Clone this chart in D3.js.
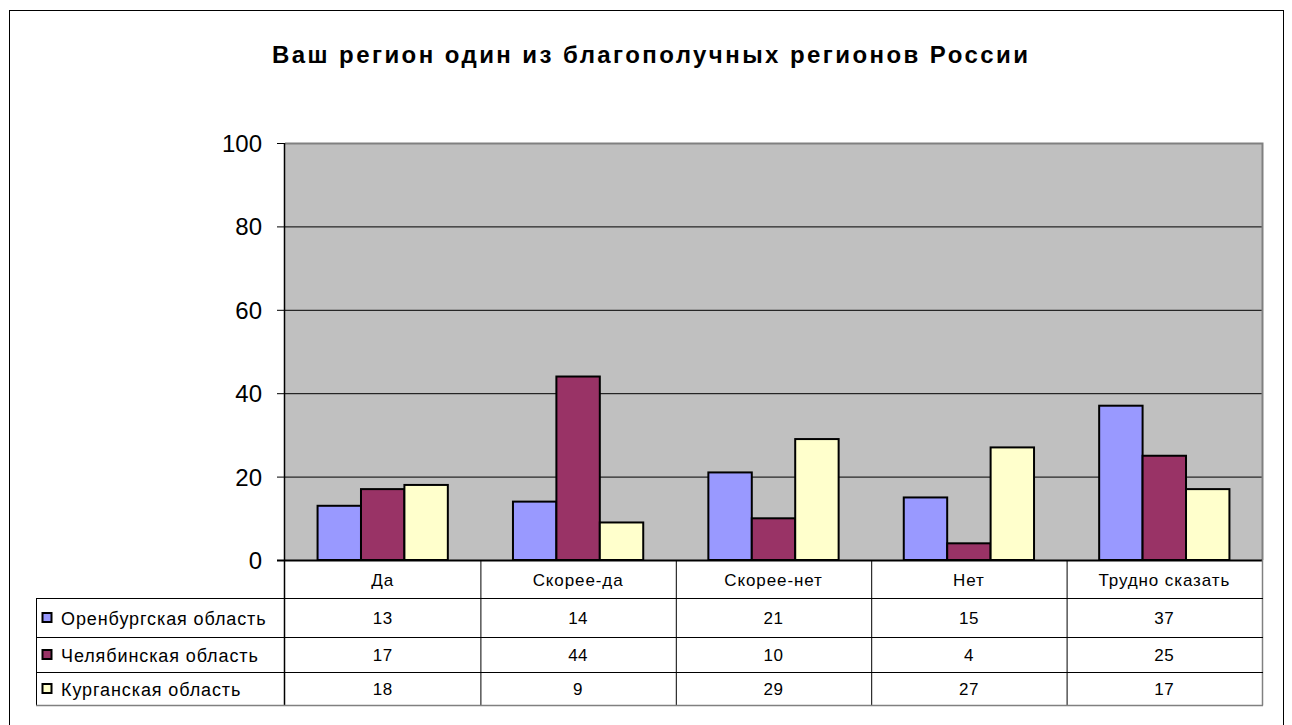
<!DOCTYPE html>
<meta charset="utf-8">
<style>
  body { margin: 0; background: #fff; }
  text { font-family: "Liberation Sans", Arial, sans-serif; fill: #000; }
  .grid line { stroke: #000; stroke-width: 1; }
  .grid path { display: none; }
  .yaxis path { display: none; }
  .yaxis line { stroke: #000; }
  .yaxis text { font-size: 24px; }
  .bar { stroke: #000; stroke-width: 2; }
  .tbl line { stroke: #000; stroke-width: 1; }
</style>
<body>
<script src="https://cdnjs.cloudflare.com/ajax/libs/d3/7.8.5/d3.min.js"></script>
<script>

var title = "Ваш регион один из благополучных регионов России";
var categories = ["Да", "Скорее-да", "Скорее-нет", "Нет", "Трудно сказать"];
var seriesNames = ["Оренбургская область", "Челябинская область", "Курганская область"];
var orenburg = [13, 14, 21, 15, 37];
var chelyabinsk = [17, 44, 10, 4, 25];
var kurgan = [18, 9, 29, 27, 17];
var colors = ["#9999FF", "#993366", "#FFFFCC"];
var yTicks = [0, 20, 40, 60, 80, 100];

var seriesValues = [orenburg, chelyabinsk, kurgan];

var W = 1292, H = 725;
var plot = {left: 285, right: 1262, top: 143, bottom: 560};
var tableLeft = 36;
var rowLines = [598, 637, 672, 705]; // header bottom + row bottoms

var svg = d3.select("body").append("svg")
    .attr("width", W)
    .attr("height", H);

// outer chart border
svg.append("rect")
    .attr("x", 9.5).attr("y", 10.5)
    .attr("width", 1274).attr("height", 730)
    .attr("fill", "none")
    .attr("stroke", "#000");

svg.append("text")
    .attr("x", 650).attr("y", 63)
    .attr("text-anchor", "middle")
    .attr("textLength", 756)
    .attr("lengthAdjust", "spacing")
    .style("font-size", "24px")
    .style("font-weight", "bold")
    .text(title);

var x = d3.scaleBand()
    .domain(categories)
    .range([plot.left, plot.right]);

var xs = d3.scaleBand()
    .domain(d3.range(seriesNames.length))
    .range([0, x.bandwidth()])
    .paddingOuter(0.75)
    .paddingInner(0);

var y = d3.scaleLinear()
    .domain([0, 100])
    .range([plot.bottom, plot.top]);

// plot background
svg.append("rect")
    .attr("x", plot.left).attr("y", plot.top)
    .attr("width", plot.right - plot.left)
    .attr("height", plot.bottom - plot.top)
    .attr("fill", "#C0C0C0");

// gridlines
svg.append("g")
    .attr("class", "grid")
    .attr("transform", "translate(" + plot.left + ",0)")
    .call(d3.axisLeft(y).tickValues(yTicks.slice(1, 5)).tickSize(-(plot.right - plot.left)).tickFormat(""));

// plot border (gray)
svg.append("path")
    .attr("d", "M" + plot.left + "," + (plot.top + 0.5) + "H" + (plot.right + 0.5) + "V" + plot.bottom)
    .attr("fill", "none")
    .attr("stroke", "#808080")
    .attr("stroke-width", 2);

// y axis
svg.append("g")
    .attr("class", "yaxis")
    .attr("transform", "translate(" + plot.left + ",0)")
    .call(d3.axisLeft(y).tickValues(yTicks).tickSize(8).tickPadding(15))
    .call(function(g) { g.selectAll("text").attr("dy", "0.35em"); });

svg.append("line")
    .attr("x1", plot.left - 0.5).attr("x2", plot.left - 0.5)
    .attr("y1", plot.top).attr("y2", rowLines[3])
    .attr("stroke", "#000").attr("stroke-width", 1.5);

// bars
var groups = svg.selectAll("g.series")
    .data(seriesValues)
    .enter().append("g")
    .attr("class", "series")
    .attr("fill", function(d, i) { return colors[i]; });

groups.each(function(vals, si) {
  d3.select(this).selectAll("rect")
    .data(vals)
    .enter().append("rect")
    .attr("class", "bar")
    .attr("x", function(d, i) { return x(categories[i]) + xs(si); })
    .attr("width", xs.bandwidth())
    .attr("y", function(d) { return y(d); })
    .attr("height", function(d) { return y(0) - y(d); });
});

// x axis baseline
svg.append("line")
    .attr("x1", plot.left - 8).attr("x2", plot.right)
    .attr("y1", plot.bottom + 0.5).attr("y2", plot.bottom + 0.5)
    .attr("stroke", "#000").attr("stroke-width", 2);

// data table
var tbl = svg.append("g").attr("class", "tbl");

// vertical column lines
categories.forEach(function(c, i) {
  if (i === 0) return;
  tbl.append("line")
    .attr("x1", x(c) + 0.5).attr("x2", x(c) + 0.5)
    .attr("y1", plot.bottom).attr("y2", rowLines[3]);
});
tbl.append("line")
    .attr("x1", plot.right + 0.5).attr("x2", plot.right + 0.5)
    .attr("y1", plot.bottom).attr("y2", rowLines[3] + 0.5)
    .style("stroke", "#808080").style("stroke-width", 1.5);
tbl.append("line")
    .attr("x1", tableLeft + 0.5).attr("x2", tableLeft + 0.5)
    .attr("y1", rowLines[0]).attr("y2", rowLines[3]);

// horizontal row lines
rowLines.forEach(function(ry, i) {
  tbl.append("line")
    .attr("x1", tableLeft).attr("x2", plot.right + 1)
    .attr("y1", ry + 0.5).attr("y2", ry + 0.5)
    .style("stroke", i === 3 ? "#808080" : "#000")
    .style("stroke-width", i === 3 ? 1.5 : 1);
});

// header labels
tbl.selectAll("text.cat")
    .data(categories)
    .enter().append("text")
    .attr("class", "cat")
    .attr("x", function(d) { return x(d) + x.bandwidth() / 2; })
    .attr("y", (plot.bottom + rowLines[0]) / 2 + 1)
    .attr("dy", "0.35em")
    .attr("text-anchor", "middle")
    .style("font-size", "17px")
    .style("letter-spacing", "0.9px")
    .text(function(d) { return d; });

// rows
seriesValues.forEach(function(vals, si) {
  var top = rowLines[si], bot = rowLines[si + 1];
  var cy = (top + bot) / 2 + 1;
  tbl.append("rect")
    .attr("x", 42.5).attr("y", cy - 5.5)
    .attr("width", 9).attr("height", 9)
    .attr("fill", colors[si])
    .attr("stroke", "#000").attr("stroke-width", 2);
  tbl.append("text")
    .attr("x", 61).attr("y", cy)
    .attr("dy", "0.35em")
    .style("font-size", "18px")
    .style("letter-spacing", "0.9px")
    .text(seriesNames[si]);
  tbl.selectAll("text.v" + si)
    .data(vals)
    .enter().append("text")
    .attr("class", "v" + si)
    .attr("x", function(d, i) { return x(categories[i]) + x.bandwidth() / 2; })
    .attr("y", cy)
    .attr("dy", "0.35em")
    .attr("text-anchor", "middle")
    .style("font-size", "17px")
    .style("letter-spacing", "0.5px")
    .text(function(d) { return d; });
});

</script>
</body>
